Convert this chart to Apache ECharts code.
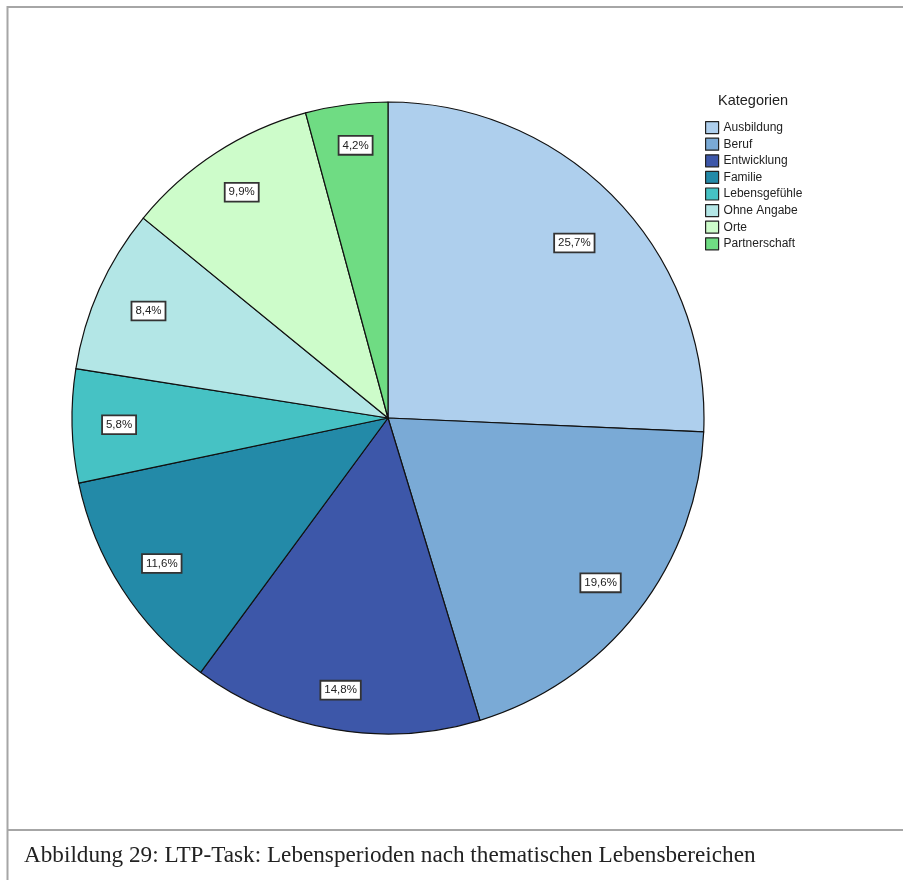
<!DOCTYPE html>
<html>
<head>
<meta charset="utf-8">
<script src="https://cdn.jsdelivr.net/npm/echarts@6/dist/echarts.min.js"></script>
<style>
  html, body { margin: 0; padding: 0; background: #fff; }
  #chart { width: 903px; height: 880px; }
</style>
</head>
<body>
<div id="chart"></div>
<script>
// Shares of life periods by thematic area (percent)
const categories = ['Ausbildung', 'Beruf', 'Entwicklung', 'Familie', 'Lebensgefühle', 'Ohne Angabe', 'Orte', 'Partnerschaft'];
const shares = [25.7, 19.6, 14.8, 11.6, 5.8, 8.4, 9.9, 4.2];
const colors = ['#aecfed', '#7aaad6', '#3d57a9', '#238aa8', '#46c2c4', '#b3e6e6', '#cdfcca', '#6fdc83'];

const chart = echarts.init(document.getElementById('chart'));
const center = [388, 418];
const R = 316;

// small nudges for label boxes that sit closer to the centre
const labelNudge = { 'Ausbildung': [-8, 11], 'Ohne Angabe': [6, 3], 'Partnerschaft': [3, -6], 'Entwicklung': [-2, 7] };

const pieData = categories.map((name, i) => ({
  name: name,
  value: shares[i],
  itemStyle: { color: colors[i] }
}));

chart.setOption({
  animation: false,
  legend: {
    orient: 'vertical',
    left: 700,
    top: 116,
    icon: 'rect',
    itemWidth: 13,
    itemHeight: 12,
    itemGap: 3.4,
    selectedMode: false,
    textStyle: { fontFamily: 'Liberation Sans, Arial, sans-serif', fontSize: 12, color: '#222' },
    itemStyle: { borderColor: '#222', borderWidth: 1.2 },
    data: categories
  },
  graphic: [
    { type: 'text', left: 718, top: 93, style: { text: 'Kategorien', fontFamily: 'Liberation Sans, Arial, sans-serif', fontSize: 14.5, fill: '#222' } },
    { type: 'line', shape: { x1: 7.5, y1: 6, x2: 7.5, y2: 880 }, style: { stroke: '#a6a6a6', lineWidth: 2 } },
    { type: 'line', shape: { x1: 7, y1: 7, x2: 903, y2: 7 }, style: { stroke: '#a6a6a6', lineWidth: 2 } },
    { type: 'line', shape: { x1: 7, y1: 830, x2: 903, y2: 830 }, style: { stroke: '#a6a6a6', lineWidth: 2 } },
    { type: 'text', left: 24, top: 844, style: { text: 'Abbildung 29: LTP-Task: Lebensperioden nach thematischen Lebensbereichen', fontFamily: 'Liberation Serif, Times New Roman, serif', fontSize: 23.2, fill: '#222' } }
  ],
  series: [
    {
      type: 'pie',
      center: center,
      radius: [0, R],
      startAngle: 90,
      clockwise: true,
      silent: true,
      label: { show: false },
      labelLine: { show: false },
      itemStyle: { borderColor: '#111', borderWidth: 1.2 },
      data: pieData
    },
    {
      // transparent ring used only to place the percentage labels
      type: 'pie',
      center: center,
      radius: [216, R],
      startAngle: 90,
      clockwise: true,
      silent: true,
      itemStyle: { color: 'transparent', borderWidth: 0 },
      label: {
        show: true,
        position: 'inside',
        formatter: p => p.value.toFixed(1).replace('.', ',') + '%',
        fontFamily: 'Liberation Sans, Arial, sans-serif',
        fontSize: 11.5,
        color: '#222',
        backgroundColor: '#fff',
        borderColor: '#333',
        borderWidth: 1.8,
        padding: [3, 3, 2, 3]
      },
      labelLine: { show: false },
      data: categories.map((name, i) => ({
        name: name,
        value: shares[i],
        label: labelNudge[name] ? { offset: labelNudge[name] } : undefined
      }))
    }
  ]
});
</script>
</body>
</html>
